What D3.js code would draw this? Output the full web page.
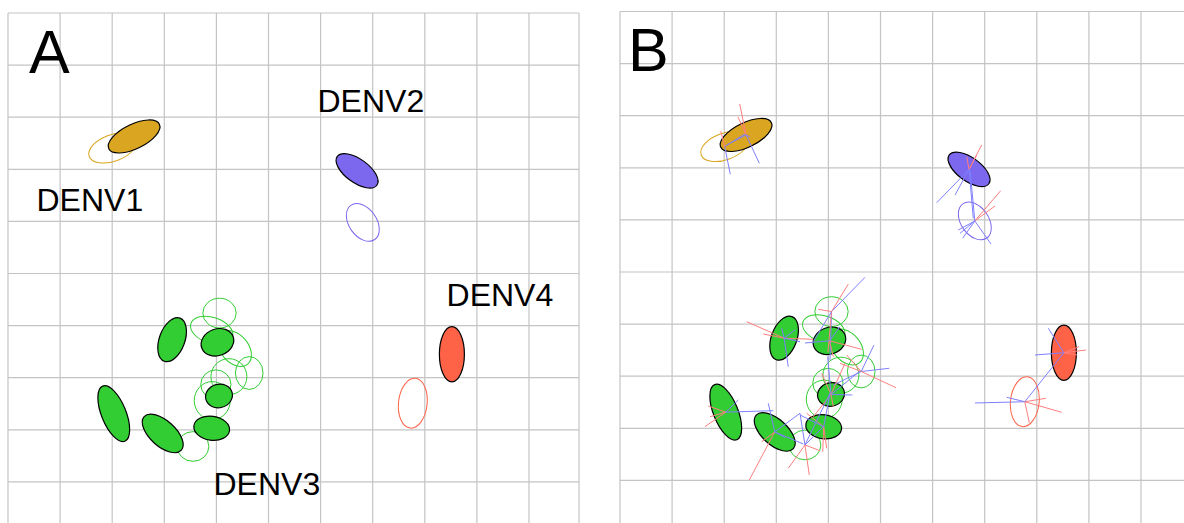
<!DOCTYPE html>
<html>
<head>
<meta charset="utf-8">
<script src="https://cdn.jsdelivr.net/npm/d3@7"></script>
<style>
  html, body { margin: 0; padding: 0; background: #fff; }
  svg { display: block; }
  text { font-family: "Liberation Sans", Arial, Helvetica, sans-serif; fill: #000; }
</style>
</head>
<body>
<svg id="chart" width="1184" height="523"></svg>
<script>
// ---------------- data (map units) ----------------
const panelNames = ["A", "B"];
const serotypes = ["DENV1", "DENV2", "DENV3", "DENV4"];
const serotypeColors = ["#DAA520", "#7B68EE", "#32CD32", "#FF6347"];

// antigens (filled ellipses)
const antigenIds      = ["D1", "D2", "D4", "G1", "G2", "G3", "G4", "G5", "G6"];
const antigenSerotype = ["DENV1", "DENV2", "DENV4", "DENV3", "DENV3", "DENV3", "DENV3", "DENV3", "DENV3"];
const antigenX        = [2.42, 6.70, 8.52, 3.15, 4.02, 4.05, 3.91, 2.97, 2.03];
const antigenY        = [2.37, 3.03, 6.55, 6.27, 6.32, 7.35, 7.97, 8.07, 7.69];
const antigenRx       = [0.54, 0.47, 0.24, 0.44, 0.32, 0.26, 0.345, 0.48, 0.57];
const antigenRy       = [0.235, 0.225, 0.53, 0.245, 0.255, 0.225, 0.23, 0.245, 0.235];
const antigenTilt     = [-26, 36, 0, -70, -20, -15, 8, 42, 68];

// sera (open ellipses)
const seraIds      = ["S1", "S2", "S4", "Sa", "Sb", "Sc", "Sd", "Se", "Sf", "Sg", "Sh"];
const seraSerotype = ["DENV1", "DENV2", "DENV4", "DENV3", "DENV3", "DENV3", "DENV3", "DENV3", "DENV3", "DENV3", "DENV3"];
const seraX        = [2.01, 6.81, 7.77, 4.06, 3.91, 4.35, 4.24, 4.63, 3.99, 3.92, 3.55];
const seraY        = [2.59, 4.02, 7.49, 5.76, 6.09, 6.44, 6.98, 6.91, 7.13, 7.44, 8.32];
const seraRx       = [0.48, 0.40, 0.275, 0.32, 0.42, 0.39, 0.345, 0.265, 0.29, 0.345, 0.305];
const seraRy       = [0.255, 0.265, 0.48, 0.285, 0.25, 0.265, 0.345, 0.315, 0.28, 0.365, 0.285];
const seraTilt     = [-20, 55, 6, 0, 18, 50, 0, 0, 0, 0, 0];

// serotype labels (panel A only)
const labelText = ["DENV1", "DENV2", "DENV3", "DENV4"];
const labelX    = [0.547, 5.94, 3.944, 8.417];
const labelY    = [3.80, 1.90, 9.25, 5.624];

// error lines (panel B): [from point, end x, end y, kind] — r = too close, b = too far
const errorLines = [
  ["D1", 2.298, 1.775, "r"], ["D1", 2.265, 2.025, "r"], ["D1", 2.048, 2.562, "b"],
  ["D1", 2.674, 2.914, "b"], ["D1", 2.495, 2.409, "b"],
  ["S1", 2.117, 3.125, "b"], ["S1", 1.933, 2.294, "r"], ["S1", 2.399, 2.351, "b"],
  ["D2", 6.942, 2.562, "r"], ["D2", 6.655, 2.787, "r"], ["D2", 6.846, 2.754, "r"],
  ["D2", 6.079, 3.670, "b"], ["D2", 6.430, 3.522, "b"], ["D2", 6.781, 3.969, "b"],
  ["S2", 7.307, 3.440, "r"], ["S2", 7.198, 3.733, "r"], ["S2", 6.493, 4.194, "b"],
  ["S2", 6.526, 4.257, "b"], ["S2", 6.578, 4.353, "b"], ["S2", 7.121, 4.463, "b"],
  ["S2", 6.72, 3.05, "b"],
  ["D4", 8.221, 6.081, "b"], ["D4", 7.965, 6.593, "b"], ["D4", 8.944, 6.497, "r"],
  ["D4", 8.810, 6.434, "r"], ["D4", 8.777, 6.593, "r"],
  ["S4", 6.814, 7.514, "b"], ["S4", 7.422, 7.405, "b"], ["S4", 8.177, 7.424, "r"],
  ["S4", 8.478, 7.693, "r"], ["S4", 7.856, 7.893, "r"], ["S4", 8.52, 6.55, "b"],
  ["G1", 2.432, 5.954, "r"], ["G1", 2.750, 6.190, "r"], ["G1", 3.710, 6.292, "r"],
  ["G1", 3.230, 6.818, "b"], ["G1", 3.455, 6.338, "b"], ["G1", 3.359, 6.113, "b"],
  ["G1", 3.104, 6.081, "b"],
  ["Sa", 4.702, 5.102, "b"], ["Sa", 4.382, 5.230, "r"], ["Sa", 3.806, 5.716, "r"],
  ["Sa", 4.031, 6.689, "b"], ["Sa", 3.992, 6.536, "r"], ["Sa", 3.710, 6.338, "b"],
  ["G2", 4.639, 6.484, "r"], ["G2", 4.094, 6.626, "r"], ["G2", 3.551, 6.363, "b"],
  ["G2", 4.223, 6.050, "b"],
  ["Se", 4.875, 6.401, "b"], ["Se", 5.169, 6.848, "b"], ["Se", 5.298, 7.221, "r"],
  ["Se", 4.223, 6.752, "r"], ["Se", 4.094, 7.169, "b"], ["Se", 4.351, 6.593, "r"],
  ["G3", 4.459, 7.361, "b"], ["G3", 4.617, 6.894, "b"], ["G3", 3.710, 7.777, "r"],
  ["G3", 4.094, 7.585, "r"], ["G3", 3.871, 6.944, "r"], ["G3", 4.319, 6.752, "r"],
  ["G3", 3.987, 6.626, "b"],
  ["G4", 3.891, 8.449, "r"], ["G4", 3.967, 8.384, "r"], ["G4", 3.583, 7.712, "r"],
  ["G4", 4.031, 7.328, "b"], ["G4", 3.455, 7.745, "b"],
  ["Sh", 3.230, 8.768, "r"], ["Sh", 3.633, 8.896, "r"], ["Sh", 3.839, 8.430, "r"],
  ["Sh", 3.455, 7.712, "b"], ["Sh", 3.902, 7.969, "b"], ["Sh", 4.031, 7.328, "b"],
  ["G5", 2.482, 8.992, "r"], ["G5", 2.720, 8.257, "r"], ["G5", 2.846, 7.520, "b"],
  ["G5", 3.455, 7.712, "b"], ["G5", 3.518, 8.301, "b"], ["G5", 3.167, 8.177, "b"],
  ["G6", 1.631, 7.969, "r"], ["G6", 1.695, 7.572, "r"], ["G6", 1.727, 7.777, "r"],
  ["G6", 2.271, 7.457, "b"], ["G6", 2.942, 7.662, "b"]
];

// ---------------- layout ----------------
const unit = 52.1;
const panelOrigins = [[8, 13], [620, 11.5]];
const panelWidthUnits = 10.96;
const panelHeightUnits = 10.2;
const letterPos = [[29, 73], [628, 71]];
const errColors = { r: "#ff7f7f", b: "#7f7fff" };

const color = d3.scaleOrdinal().domain(serotypes).range(serotypeColors);
const svg = d3.select("#chart");

const pointLookup = {};
antigenIds.forEach((id, i) => pointLookup[id] = [antigenX[i], antigenY[i]]);
seraIds.forEach((id, i) => pointLookup[id] = [seraX[i], seraY[i]]);

panelNames.forEach((name, p) => {
  const [ox, oy] = panelOrigins[p];
  const x = d3.scaleLinear().domain([0, 1]).range([ox, ox + unit]);
  const y = d3.scaleLinear().domain([0, 1]).range([oy, oy + unit]);
  const g = svg.append("g");

  // grid
  const xt = d3.range(0, 11).concat([panelWidthUnits]);
  const yt = d3.range(0, 11);
  g.append("g").selectAll("line").data(xt).join("line")
    .attr("x1", d => x(d)).attr("x2", d => x(d))
    .attr("y1", y(0)).attr("y2", y(panelHeightUnits))
    .attr("stroke", "#c4c4c4").attr("stroke-width", 1.2);
  g.append("g").selectAll("line").data(yt).join("line")
    .attr("y1", d => y(d)).attr("y2", d => y(d))
    .attr("x1", x(0)).attr("x2", x(panelWidthUnits))
    .attr("stroke", "#c4c4c4").attr("stroke-width", 1.2);

  // sera (open)
  g.append("g").selectAll("ellipse").data(seraIds).join("ellipse")
    .attr("cx", (d, i) => x(seraX[i])).attr("cy", (d, i) => y(seraY[i]))
    .attr("rx", (d, i) => x(seraRx[i]) - x(0)).attr("ry", (d, i) => y(seraRy[i]) - y(0))
    .attr("transform", (d, i) => `rotate(${seraTilt[i]} ${x(seraX[i])} ${y(seraY[i])})`)
    .attr("fill", "none").attr("stroke", (d, i) => color(seraSerotype[i])).attr("stroke-width", 1);

  // antigens (filled)
  g.append("g").selectAll("ellipse").data(antigenIds).join("ellipse")
    .attr("cx", (d, i) => x(antigenX[i])).attr("cy", (d, i) => y(antigenY[i]))
    .attr("rx", (d, i) => x(antigenRx[i]) - x(0)).attr("ry", (d, i) => y(antigenRy[i]) - y(0))
    .attr("transform", (d, i) => `rotate(${antigenTilt[i]} ${x(antigenX[i])} ${y(antigenY[i])})`)
    .attr("fill", (d, i) => color(antigenSerotype[i])).attr("stroke", "#000").attr("stroke-width", 1.2);

  if (name === "B") {
    g.append("g").selectAll("line").data(errorLines).join("line")
      .attr("x1", d => x(pointLookup[d[0]][0])).attr("y1", d => y(pointLookup[d[0]][1]))
      .attr("x2", d => x(d[1])).attr("y2", d => y(d[2]))
      .attr("stroke", d => errColors[d[3]]).attr("stroke-width", 1);
  }

  if (name === "A") {
    g.append("g").selectAll("text").data(labelText).join("text")
      .attr("x", (d, i) => x(labelX[i])).attr("y", (d, i) => y(labelY[i]))
      .attr("font-size", 32).text(d => d);
  }

  svg.append("text").attr("x", letterPos[p][0]).attr("y", letterPos[p][1])
    .attr("font-size", 61).text(name);
});
</script>
</body>
</html>
